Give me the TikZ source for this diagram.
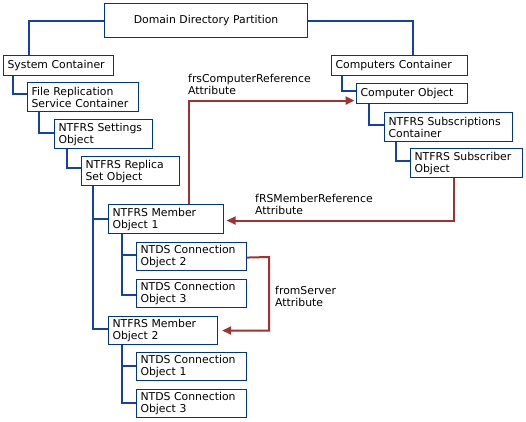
\documentclass[tikz,border=0pt]{standalone}
\usepackage{fontspec}
\setmainfont{DejaVu Sans}
\usetikzlibrary{arrows.meta}
\definecolor{boxblue}{RGB}{0,51,153}
\definecolor{linkblue}{RGB}{20,65,165}
\definecolor{refred}{RGB}{160,50,50}
\begin{document}
\begin{tikzpicture}[x=1pt,y=-1pt,
  every node/.style={font=\fontsize{10.85pt}{12pt}\selectfont},
  bx/.style={draw=boxblue, line width=1.1pt, fill=white, anchor=north west,
    inner xsep=4pt, inner ysep=0pt, align=left},
  conn/.style={draw=linkblue, line width=2pt},
  refarrow/.style={draw=refred, line width=2pt,
    -{Triangle[length=9pt,width=8pt]}},
  lbl/.style={anchor=west, inner sep=0pt, align=left}]
\useasboundingbox[fill=white] (0,0) rectangle (526,421);

% boxes
\node[bx, minimum width=203pt, minimum height=34pt, text width=195pt, align=center] (dom) at (104,3) {Domain Directory Partition};
\node[bx, minimum width=110pt, minimum height=20pt, text width=102pt] (sys) at (3,55) {System Container};
\node[bx, minimum width=111pt, minimum height=29pt, text width=103pt] (frs) at (27,82) {File Replication\\Service Container};
\node[bx, minimum width=98pt, minimum height=29pt, text width=90pt] (set) at (54,119) {NTFRS Settings\\Object};
\node[bx, minimum width=98pt, minimum height=29pt, text width=90pt] (rep) at (81,156) {NTFRS Replica\\Set Object};
\node[bx, minimum width=115pt, minimum height=29pt, text width=107pt] (mem1) at (108,204) {NTFRS Member\\Object 1};
\node[bx, minimum width=110pt, minimum height=28pt, text width=102pt] (c2) at (136,242) {NTDS Connection\\Object 2};
\node[bx, minimum width=110pt, minimum height=28pt, text width=102pt] (c3) at (136,279) {NTDS Connection\\Object 3};
\node[bx, minimum width=109pt, minimum height=28pt, text width=101pt] (mem2) at (108,316) {NTFRS Member\\Object 2};
\node[bx, minimum width=110pt, minimum height=28pt, text width=102pt] (d1) at (136,352) {NTDS Connection\\Object 1};
\node[bx, minimum width=110pt, minimum height=28pt, text width=102pt] (d3) at (136,389) {NTDS Connection\\Object 3};
\node[bx, minimum width=136pt, minimum height=20pt, text width=128pt] (cc) at (331,55) {Computers Container};
\node[bx, minimum width=111pt, minimum height=20pt, text width=103pt] (cobj) at (356,83) {Computer Object};
\node[bx, minimum width=128pt, minimum height=29pt, text width=120pt] (subs) at (384,112) {NTFRS Subscriptions\\Container};
\node[bx, minimum width=112pt, minimum height=29pt, text width=104pt] (sub) at (410,148) {NTFRS Subscriber\\Object};

% blue tree connectors
\draw[conn] (dom.west) -| ([xshift=26pt]sys.north west);
\draw[conn] (dom.east) -| ([xshift=82pt]cc.north west);
\draw[conn] ([xshift=10pt]sys.south west) |- ([yshift=3.5pt]frs.west);
\draw[conn] ([xshift=12pt]frs.south west) |- ([yshift=1.5pt]set.west);
\draw[conn] ([xshift=13pt]set.south west) |- ([yshift=3.5pt]rep.west);
\draw[conn] ([xshift=12pt]rep.south west) |- ([yshift=2pt]mem2.west);
\draw[conn] ([xshift=12pt]rep.south west) |- ([yshift=0.5pt]mem1.west);
\draw[conn] ([xshift=14pt]mem1.south west) |- ([yshift=-1pt]c3.west);
\draw[conn] ([xshift=14pt]mem1.south west) |- ([yshift=1.5pt]c2.west);
\draw[conn] ([xshift=14pt]mem2.south west) |- ([yshift=1pt]d3.west);
\draw[conn] ([xshift=14pt]mem2.south west) |- ([yshift=1pt]d1.west);
\draw[conn] ([xshift=11pt]cc.south west) |- ([yshift=2.5pt]cobj.west);
\draw[conn] ([xshift=13pt]cobj.south west) |- ([yshift=2.5pt]subs.west);
\draw[conn] ([xshift=12pt]subs.south west) |- ([yshift=2.5pt]sub.west);

% red reference arrows
\draw[refarrow, shorten >=1.5pt] ([xshift=81pt]mem1.north west) |- ([yshift=-7pt]cobj.west);
\draw[refarrow, shorten >=2.5pt] ([xshift=44pt]sub.south west) |- ([yshift=-1.5pt]mem1.east);
\coordinate (fsx) at (269,257);
\draw[refarrow, shorten >=4pt] ([yshift=-1pt]c2.east) -- (fsx) |- (mem2.east);

% labels
\node[lbl] (l1) at (188,84) {frsComputerReference\\Attribute};
\node[lbl] (l2) at (255,204) {fRSMemberReference\\Attribute};
\node[lbl] (l3) at (275,296) {fromServer\\Attribute};
\end{tikzpicture}
\end{document}
